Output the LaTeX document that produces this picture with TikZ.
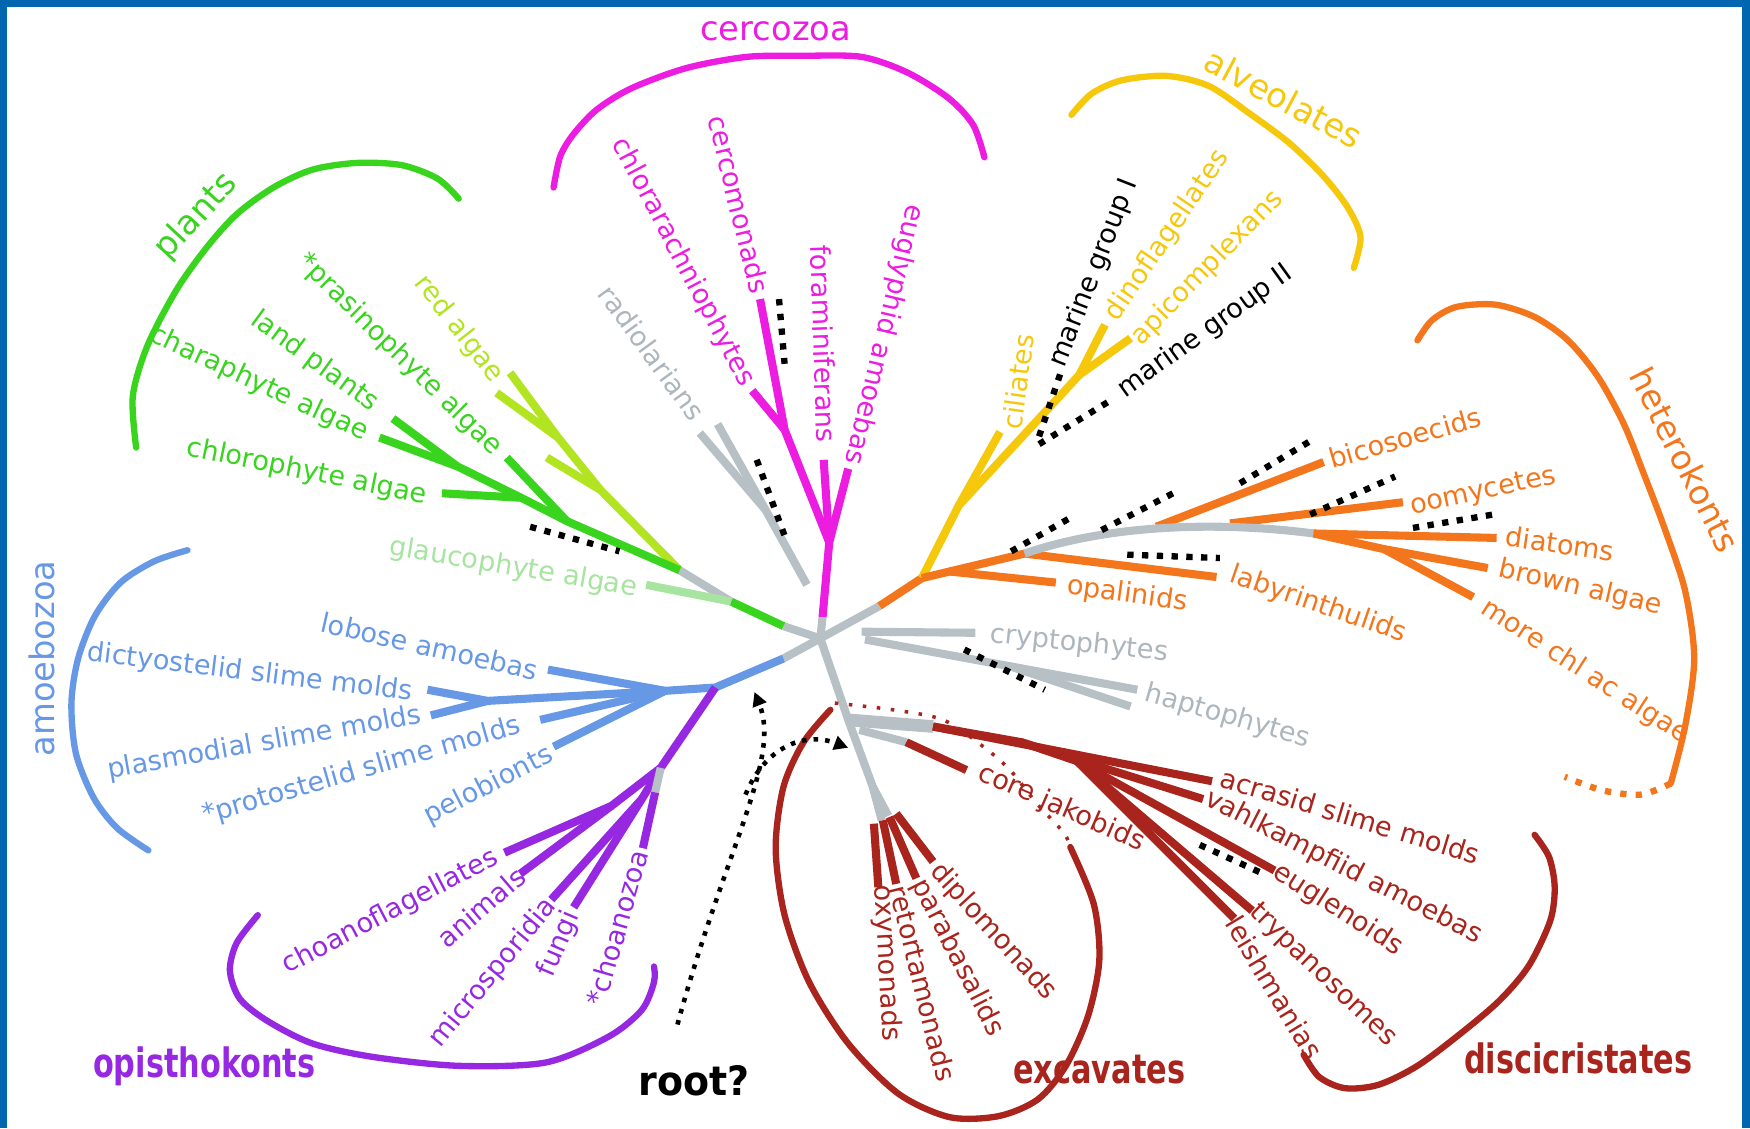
\documentclass[tikz,border=0pt]{standalone}
\usepackage{fontspec}
\setmainfont{DejaVu Sans}
\usepackage{tikz}
\usetikzlibrary{arrows.meta}
\definecolor{frameblue}{RGB}{0,102,176}
\definecolor{brgray}{RGB}{182,192,197}
\definecolor{txgray}{RGB}{172,182,188}
\definecolor{mymag}{RGB}{236,28,224}
\definecolor{myyellow}{RGB}{246,200,12}
\definecolor{myorange}{RGB}{244,118,28}
\definecolor{mydred}{RGB}{168,36,28}
\definecolor{mypurple}{RGB}{150,40,226}
\definecolor{myblue}{RGB}{102,152,230}
\definecolor{mygreen}{RGB}{56,212,30}
\definecolor{mylime}{RGB}{178,228,34}
\definecolor{mypale}{RGB}{166,228,160}
\tikzset{
  br/.style={line width=2.3pt, color=#1, line join=round},
  arcline/.style={line width=1.8pt, color=#1, line cap=round},
  blkdots/.style={line width=1.8pt, dash pattern=on 1.8pt off 2.4pt},
  lbl/.style={font=\fontsize{7.7}{8}\selectfont, inner sep=0pt, text=#1},
  grp/.style={font=\fontsize{9.6}{10}\selectfont, inner sep=0pt, text=#1},
  bgrp/.style={font=\fontsize{11.5}{12}\selectfont\bfseries, xscale=0.75, inner sep=0pt, text=#1},
  rootdots/.style={line width=1.3pt, dash pattern=on 1.3pt off 2pt, -{Triangle[length=4pt,width=4pt]}}
}

\begin{document}
\begin{tikzpicture}[x=0.011161cm, y=-0.011161cm]
  \useasboundingbox (0,0) rectangle (1568,1011);
  % Slide frame
  \fill[frameblue] (0,0) rectangle (1568,6.5);
  \fill[frameblue] (0,0) rectangle (6.5,1011);
  \fill[frameblue] (1561,0) rectangle (1568,1011);

  \coordinate (hub) at (735,572);

  % Cercozoa
  \coordinate (cz0) at (737,553);
  \coordinate (cz1) at (743,486);
  \coordinate (cz2) at (703,385);
  \coordinate (tEug) at (760,420);
  \coordinate (tFor) at (738,412);
  \coordinate (tCerc) at (681,268);
  \coordinate (tChlr) at (674,350);
  \draw[br=brgray] (hub) -- (cz0);
  \draw[br=mymag] (cz0) -- (cz1) -- (tEug);
  \draw[br=mymag] (cz1) -- (tFor);
  \draw[br=mymag] (cz1) -- (cz2) -- (tCerc);
  \draw[br=mymag] (cz2) -- (tChlr);
  \draw[blkdots] (698,268) -- (703,326);
  % Radiolarians
  \coordinate (rd0) at (723,524);
  \coordinate (rd1) at (686,457);
  \draw[br=brgray] (rd0) -- (rd1) -- (627,388);
  \draw[br=brgray] (rd1) -- (643,380);
  \draw[blkdots] (678,412) -- (703,480);

  % Plants
  \coordinate (pl0) at (702,561);
  \coordinate (pl1) at (655,539);
  \coordinate (pl2) at (609,511);
  \coordinate (la1) at (538,439);
  \coordinate (la2) at (500,392);
  \coordinate (gp2) at (508,467);
  \coordinate (gp1) at (467,446);
  \coordinate (gp0) at (410,418);
  \draw[br=brgray] (hub) -- (pl0);
  \draw[br=mygreen] (pl0) -- (pl1);
  \draw[br=brgray] (pl1) -- (pl2);
  \draw[br=mypale] (pl1) -- (579,524);
  \draw[br=mylime] (pl2) -- (la1) -- (la2) -- (457,334);
  \draw[br=mylime] (la2) -- (445,352);
  \draw[br=mylime] (la1) -- (490,410);
  \draw[br=mygreen] (pl2) -- (gp2) -- (gp1) -- (396,442);
  \draw[br=mygreen] (gp1) -- (gp0) -- (352,375);
  \draw[br=mygreen] (gp0) -- (340,392);
  \draw[br=mygreen] (gp2) -- (454,410);
  \draw[blkdots] (475,472) -- (555,494);

  % Amoebozoa and opisthokonts
  \coordinate (am0) at (702,590);
  \coordinate (am1) at (641,616);
  \coordinate (am2) at (596,619);
  \coordinate (av) at (437,628);
  \draw[br=brgray] (hub) -- (am0);
  \draw[br=myblue] (am0) -- (am1) -- (am2) -- (491,600);
  \draw[br=myblue] (am2) -- (av) -- (383,618);
  \draw[br=myblue] (av) -- (386,641);
  \draw[br=myblue] (am2) -- (484,645);
  \draw[br=myblue] (am2) -- (496,669);
  \coordinate (op1) at (592,688);
  \coordinate (op2) at (548,722);
  \coordinate (op3) at (575,716);
  \coordinate (op4) at (587,710);
  \draw[br=mypurple] (am1) -- (op1) -- (op2) -- (452,764);
  \draw[br=mypurple] (op2) -- (466,783);
  \draw[br=mypurple] (op1) -- (op3) -- (494,806);
  \draw[br=mypurple] (op3) -- (514,813);
  \draw[br=brgray] (op1) -- (op4);
  \draw[br=mypurple] (op4) -- (576,760);

  % Alveolates
  \coordinate (ha0) at (788,543);
  \coordinate (ha1) at (826,518);
  \coordinate (al1) at (859,453);
  \coordinate (al2) at (967,336);
  \draw[br=brgray] (hub) -- (ha0);
  \draw[br=myorange] (ha0) -- (ha1);
  \draw[br=myyellow] (ha1) -- (al1) -- (al2) -- (990,291);
  \draw[br=myyellow] (al2) -- (1013,303);
  \draw[br=myyellow] (al1) -- (896,387);
  \draw[blkdots] (931,391) -- (952,329);
  \draw[blkdots] (931,398) -- (998,357);

  % Heterokonts
  \coordinate (hk1) at (918,496);
  \coordinate (hk2) at (850,512);
  \coordinate (hk3) at (1177,478);
  \coordinate (hk4) at (1240,492);
  \draw[br=myorange] (ha1) -- (hk1) -- (1090,517);
  \draw[br=myorange] (hk2) -- (946,522);
  \draw[br=myorange] (1036,472) -- (1186,414);
  \draw[br=myorange] (1102,469) -- (1257,450);
  \draw[br=brgray] (hk1) .. controls (1000,468) and (1100,468) .. (hk3);
  \draw[br=myorange] (hk3) -- (1341,482);
  \draw[br=myorange] (hk3) -- (hk4) -- (1333,509);
  \draw[br=myorange] (hk4) -- (1320,535);
  \draw[blkdots] (906,494) -- (959,464);
  \draw[blkdots] (987,475) -- (1051,442);
  \draw[blkdots] (1111,433) -- (1176,394);
  \draw[blkdots] (1174,461) -- (1250,427);
  \draw[blkdots] (1266,473) -- (1338,461);
  \draw[blkdots] (1010,497) -- (1093,500);

  % Cryptophytes and haptophytes
  \draw[br=brgray] (772,566) -- (874,567);
  \draw[br=brgray] (775,573) -- (1019,618);
  \draw[br=brgray] (905,597) -- (1013,633);
  \draw[blkdots] (864,582) -- (936,618);

  % Excavates
  \coordinate (ex1) at (760,645);
  \coordinate (ex2) at (782,705);
  \coordinate (ex3) at (790,735);
  \coordinate (dc0) at (836,651);
  \coordinate (dc1) at (915,665);
  \coordinate (dc2) at (965,682);
  \draw[br=brgray] (hub) -- (ex1) -- (ex2) -- (ex3);
  \draw[brgray, line width=3.6pt] (ex1) -- (dc0);
  \draw[br=brgray] (770,654) -- (812,665);
  \draw[br=mydred] (812,665) -- (866,690);
  \draw[br=brgray] (ex2) -- (796,731);
  \draw[br=mydred] (783,738) -- (787,795);
  \draw[br=mydred] (791,735) -- (803,792);
  \draw[br=mydred] (797,732) -- (821,787);
  \draw[br=mydred] (803,729) -- (836,772);
  \draw[br=mydred] (dc0) -- (1086,700);
  \draw[br=mydred] (dc0) -- (dc1) -- (1078,716);
  \draw[br=mydred] (dc1) -- (dc2) -- (1142,780);
  \draw[br=mydred] (dc2) -- (1122,816);
  \draw[br=mydred] (dc2) -- (1106,823);
  \draw[blkdots] (1075,757) -- (1132,783);
  \draw[mydred, line width=1pt, dash pattern=on 1pt off 3pt]
    plot[smooth] coordinates {(748,630) (800,636) (845,645) (881,669) (905,690) (929,720) (953,746) (959,759)};

  % Group brackets
  \draw[arcline=mymag] plot[smooth] coordinates {(496,168) (502,140) (514,120) (535,98) (566,79) (615,61) (669,51) (720,50) (772,51) (813,65) (850,88) (872,112) (882,141)};
  \draw[arcline=mygreen] plot[smooth] coordinates {(411,178) (392,160) (360,148) (320,146) (280,152) (245,168) (212,192) (185,222) (158,260) (132,310) (119,355) (122,401)};
  \draw[arcline=myyellow] plot[smooth] coordinates {(960,103) (978,84) (1005,72) (1045,68) (1083,77) (1120,102) (1155,128) (1185,157) (1207,185) (1219,212) (1213,240)};
  \draw[arcline=myorange] plot[smooth] coordinates {(1270,305) (1283,287) (1305,275) (1340,273) (1375,284) (1405,305) (1432,338) (1455,380) (1473,425) (1492,475) (1510,530) (1518,590) (1510,650) (1497,702)};
  \draw[myorange, line width=1.8pt, dash pattern=on 1.8pt off 2.6pt] plot[smooth] coordinates {(1497,702) (1470,712) (1435,708) (1402,696)};
  \draw[arcline=myblue] plot[smooth] coordinates {(168,493) (138,503) (108,522) (85,552) (70,590) (64,630) (68,675) (84,715) (105,742) (133,762)};
  \draw[arcline=mypurple] plot[smooth] coordinates {(231,820) (212,845) (206,870) (215,895) (240,915) (280,935) (334,947) (411,955) (489,952) (545,929) (575,905) (586,880) (586,866)};
  \draw[arcline=mydred] plot[smooth] coordinates {(744,636) (720,665) (702,705) (695,760) (703,820) (725,880) (760,935) (805,980) (851,1001) (895,1000) (930,985) (955,955) (975,910) (985,860) (980,810) (959,759)};
  \draw[arcline=mydred] plot[smooth] coordinates {(1375,748) (1388,768) (1393,795) (1389,825) (1370,865) (1344,896) (1310,925) (1270,955) (1235,972) (1205,975) (1182,965) (1168,945)};

  % Root
  \node[bgrp=black, xscale=1.25] (root) at (622,968) {root?};
  \coordinate (rt0) at (607,918);
  \coordinate (rt1) at (676,620);
  \coordinate (rt2) at (668,712);
  \coordinate (rt3) at (760,670);
  \draw[rootdots] (rt0) .. controls (650,760) and (700,680) .. (rt1);
  \draw[rootdots] (rt2) .. controls (685,670) and (720,655) .. (rt3);

  % Labels: plants
  \node[grp=mygreen, rotate=47] (gPla) at (176,194) {plants};
  \node[lbl=mygreen, rotate=-11.5] (lChlo) at (275,423) {chlorophyte algae};
  \node[lbl=mygreen, rotate=-25] (lChar) at (232,344) {charaphyte algae};
  \node[lbl=mygreen, rotate=-36] (lLand) at (282,324) {land plants};
  \node[lbl=mygreen, rotate=-44.5] (lPras) at (358,318) {*prasinophyte algae};
  \node[lbl=mylime, rotate=-52] (lRed) at (411,295) {red algae};
  \node[lbl=mypale, rotate=-9.7] (lGla) at (460,509) {glaucophyte algae};
  % Labels: cercozoa
  \node[grp=mymag] (gCer) at (695,28) {cercozoa};
  \node[lbl=mymag, rotate=-62.2] (lChlr) at (612,235) {chlorarachniophytes};
  \node[lbl=mymag, rotate=-76.4] (lCerc) at (662,183) {cercomonads};
  \node[lbl=mymag, rotate=-88] (lFor) at (738,308) {foraminiferans};
  \node[lbl=mymag, rotate=-103.5] (lEug) at (792,300) {euglyphid amoebas};
  \node[lbl=txgray, rotate=-54] (lRad) at (584,316) {radiolarians};
  % Labels: alveolates
  \node[grp=myyellow, rotate=-28] (gAlv) at (1150,88) {alveolates};
  \node[lbl=myyellow, rotate=82] (lCil) at (912,342) {ciliates};
  \node[lbl=black, rotate=68.5] (lMg1) at (980,245) {marine group I};
  \node[lbl=myyellow, rotate=56] (lDin) at (1046,211) {dinoflagellates};
  \node[lbl=myyellow, rotate=45.7] (lApi) at (1082,240) {apicomplexans};
  \node[lbl=black, rotate=35.7] (lMg2) at (1080,297) {marine group II};
  % Labels: heterokonts
  \node[grp=myorange, rotate=-63] (gHet) at (1510,412) {heterokonts};
  \node[lbl=myorange, rotate=16] (lBic) at (1259,392) {bicosoecids};
  \node[lbl=myorange, rotate=12] (lOom) at (1329,441) {oomycetes};
  \node[lbl=myorange, rotate=-8] (lDia) at (1398,487) {diatoms};
  \node[lbl=myorange, rotate=-13] (lBro) at (1416,527) {brown algae};
  \node[lbl=myorange, rotate=-33] (lMor) at (1420,602) {more chl ac algae};
  \node[lbl=myorange, rotate=-8] (lOpa) at (1010,533) {opalinids};
  \node[lbl=myorange, rotate=-19] (lLab) at (1181,542) {labyrinthulids};
  % Labels: cryptophytes, haptophytes
  \node[lbl=txgray, rotate=-6] (lCry) at (967,577) {cryptophytes};
  \node[lbl=txgray, rotate=-16] (lHap) at (1100,642) {haptophytes};
  % Labels: excavates
  \node[bgrp=mydred] (gExc) at (985,958) {excavates};
  \node[lbl=mydred, rotate=-87] (lOxy) at (794,863) {oxymonads};
  \node[lbl=mydred, rotate=-76] (lRet) at (827,881) {retortamonads};
  \node[lbl=mydred, rotate=-63] (lPar) at (858,858) {parabasalids};
  \node[lbl=mydred, rotate=-47.6] (lDip) at (890,835) {diplomonads};
  \node[lbl=mydred, rotate=-23.6] (lCor) at (951,724) {core jakobids};
  % Labels: discicristates
  \node[bgrp=mydred] (gDis) at (1414,948) {discicristates};
  \node[lbl=mydred, rotate=-16.8] (lAcr) at (1210,731) {acrasid slime molds};
  \node[lbl=mydred, rotate=-27] (lVah) at (1204,777) {vahlkampfiid amoebas};
  \node[lbl=mydred, rotate=-32.6] (lEgl) at (1199,815) {euglenoids};
  \node[lbl=mydred, rotate=-44] (lTry) at (1185,874) {trypanosomes};
  \node[lbl=mydred, rotate=-59] (lLei) at (1142,885) {leishmanias};
  % Labels: opisthokonts
  \node[bgrp=mypurple] (gOpi) at (183,955) {opisthokonts};
  \node[lbl=mypurple, rotate=27.6] (lChoF) at (350,817) {choanoflagellates};
  \node[lbl=mypurple, rotate=40.6] (lAni) at (431,813) {animals};
  \node[lbl=mypurple, rotate=50.5] (lMic) at (442,872) {microsporidia};
  \node[lbl=mypurple, rotate=67] (lFun) at (501,846) {fungi};
  \node[lbl=mypurple, rotate=74] (lCho) at (553,831) {*choanozoa};
  % Labels: amoebozoa
  \node[grp=myblue, rotate=90] (gAmo) at (38,590) {amoebozoa};
  \node[lbl=myblue, rotate=-12.8] (lLob) at (385,579) {lobose amoebas};
  \node[lbl=myblue, rotate=-7] (lDic) at (224,603) {dictyostelid slime molds};
  \node[lbl=myblue, rotate=10] (lPlm) at (237,666) {plasmodial slime molds};
  \node[lbl=myblue, rotate=16] (lPro) at (324,691) {*protostelid slime molds};
  \node[lbl=myblue, rotate=27] (lPel) at (438,704) {pelobionts};
\end{tikzpicture}
\end{document}
